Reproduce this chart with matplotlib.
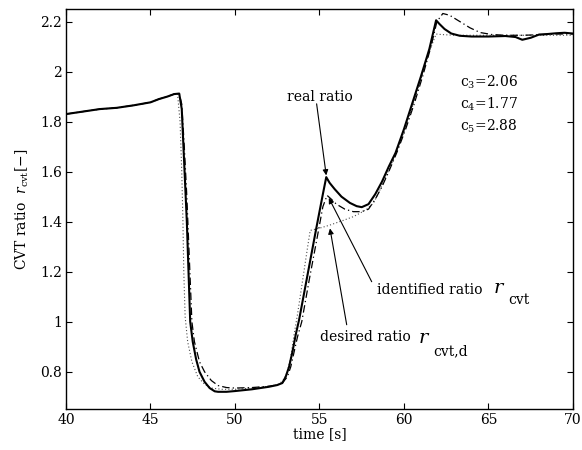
import matplotlib
matplotlib.use("Agg")
import matplotlib.pyplot as plt

plt.rcParams['font.family'] = ['DejaVu Serif']
plt.rcParams['mathtext.fontset'] = 'dejavuserif'
plt.rcParams['font.size'] = 10

# real ratio (measured)
t_real = [40, 41, 42, 43, 44, 45, 45.5, 46, 46.4, 46.7, 46.85, 46.95, 47.05, 47.15, 47.25,
          47.35, 47.5, 47.7, 47.9, 48.2, 48.5, 48.8, 49.0, 49.5, 50, 51, 52, 52.5, 52.8,
          53.0, 53.2, 53.4, 53.6, 53.8, 54.3, 54.8, 55.2, 55.4, 55.6, 55.9, 56.3, 56.8,
          57.2, 57.5, 57.9, 58.3, 58.7, 59.1, 59.5, 60.0, 60.5, 61.0, 61.5, 61.9, 62.1,
          62.4, 62.8, 63.3, 64, 65, 66, 66.6, 67.0, 67.5, 68, 68.5, 69, 69.5, 70]
r_real = [1.83, 1.84, 1.85, 1.855, 1.865, 1.877, 1.89, 1.90, 1.91, 1.912, 1.85, 1.70, 1.55,
          1.40, 1.20, 1.00, 0.92, 0.85, 0.80, 0.76, 0.735, 0.722, 0.72, 0.72, 0.723, 0.73,
          0.74, 0.747, 0.755, 0.78, 0.82, 0.88, 0.95, 1.01, 1.19, 1.37, 1.51, 1.578, 1.555,
          1.53, 1.50, 1.475, 1.462, 1.458, 1.47, 1.51, 1.56, 1.62, 1.675, 1.77, 1.875, 1.98,
          2.09, 2.205, 2.19, 2.17, 2.152, 2.143, 2.14, 2.14, 2.142, 2.138, 2.127, 2.135,
          2.148, 2.15, 2.153, 2.155, 2.152]

# identified ratio
t_id = [40, 41, 42, 43, 44, 45, 45.5, 46, 46.4, 46.7, 46.85, 47.0, 47.15, 47.3, 47.45, 47.6,
        47.9, 48.2, 48.6, 49, 49.5, 50, 51, 52, 52.5, 52.8, 53.1, 53.3, 53.5, 53.7, 53.95,
        54.4, 54.9, 55.2, 55.45, 55.7, 56.0, 56.5, 57.0, 57.5, 57.9, 58.3, 58.7, 59.1, 59.6,
        60.1, 60.6, 61.1, 61.6, 61.95, 62.3, 62.7, 63.3, 63.9, 64.5, 65.2, 66, 67, 68, 69, 70]
r_id = [1.83, 1.84, 1.85, 1.855, 1.865, 1.877, 1.89, 1.90, 1.91, 1.912, 1.87, 1.70, 1.50,
        1.25, 1.00, 0.92, 0.84, 0.80, 0.765, 0.745, 0.737, 0.735, 0.737, 0.742, 0.748, 0.755,
        0.78, 0.82, 0.88, 0.94, 1.00, 1.17, 1.35, 1.46, 1.505, 1.49, 1.47, 1.45, 1.44, 1.44,
        1.45, 1.49, 1.54, 1.60, 1.68, 1.77, 1.87, 1.98, 2.10, 2.20, 2.232, 2.225, 2.20, 2.175,
        2.156, 2.148, 2.145, 2.145, 2.147, 2.15, 2.15]

# desired ratio
t_des = [40, 41, 42, 43, 44, 45, 45.5, 46, 46.4, 46.6, 46.75, 46.85, 46.92, 46.97, 47.05,
         47.2, 47.45, 47.8, 48.2, 48.6, 49.2, 50, 51, 52, 52.6, 52.9, 53.1, 53.3, 53.5, 53.7,
         53.9, 54.1, 54.3, 54.45, 55.0, 55.6, 56.4, 57.0, 57.4, 57.8, 58.2, 58.6, 59.0, 59.5,
         60, 60.5, 61, 61.5, 61.9, 62.2, 63, 70]
r_des = [1.83, 1.84, 1.85, 1.855, 1.865, 1.877, 1.89, 1.90, 1.91, 1.91, 1.80, 1.60, 1.40,
         1.20, 1.02, 0.92, 0.84, 0.78, 0.75, 0.735, 0.73, 0.73, 0.735, 0.742, 0.75, 0.77,
         0.80, 0.86, 0.95, 1.03, 1.12, 1.21, 1.30, 1.365, 1.374, 1.386, 1.405, 1.42, 1.434,
         1.45, 1.475, 1.53, 1.59, 1.67, 1.76, 1.86, 1.97, 2.08, 2.15, 2.148, 2.145, 2.145]

x_ticks = [40, 45, 50, 55, 60, 65, 70]
y_ticks = [0.8, 1.0, 1.2, 1.4, 1.6, 1.8, 2.0, 2.2]
y_tick_labels = ['0.8', '1', '1.2', '1.4', '1.6', '1.8', '2', '2.2']
coeffs = ['c$_3$=2.06', 'c$_4$=1.77', 'c$_5$=2.88']

fig = plt.figure(figsize=(5.82, 4.5), dpi=100)
ax = fig.add_axes([0.1134, 0.0904, 0.8711, 0.8896])

ax.plot(t_des, r_des, color='0.3', linestyle=(0, (1, 2)), linewidth=0.8)
ax.plot(t_id, r_id, color='black', linestyle=(0, (6, 2.5, 1, 2.5)), linewidth=0.9)
ax.plot(t_real, r_real, color='black', linestyle='-', linewidth=1.5)

ax.set_xlim(40, 70)
ax.set_ylim(0.65, 2.25)
ax.set_xticks(x_ticks)
ax.set_yticks(y_ticks)
ax.set_yticklabels(y_tick_labels)
ax.tick_params(direction='in', top=True, right=True, length=4, width=0.8, pad=3,
               labelsize=10)
for s in ax.spines.values():
    s.set_linewidth(1.0)

ax.set_xlabel('time [s]', labelpad=0)
ax.set_ylabel(r'CVT ratio  $\mathit{r}_{\rm cvt}$[$-$]', labelpad=6)

arrow = dict(arrowstyle='-|>', color='black', lw=0.8, mutation_scale=8,
             shrinkA=0, shrinkB=0)
ax.annotate('', xy=(55.4, 1.585), xytext=(54.83, 1.871), arrowprops=arrow)
ax.annotate('', xy=(55.55, 1.495), xytext=(58.09, 1.160), arrowprops=arrow)
ax.annotate('', xy=(55.62, 1.373), xytext=(56.61, 0.988), arrowprops=arrow)

ax.text(53.06, 1.897, 'real ratio', va='center', ha='left')
ax.text(58.38, 1.127, 'identified ratio', va='center', ha='left')
ax.text(65.28, 1.135, 'r', va='center', ha='left', fontsize=14, style='italic')
ax.text(66.17, 1.087, 'cvt', va='center', ha='left')
ax.text(55.03, 0.941, 'desired ratio', va='center', ha='left')
ax.text(60.85, 0.935, 'r', va='center', ha='left', fontsize=14, style='italic')
ax.text(61.74, 0.881, 'cvt,d', va='center', ha='left')

for i, c in enumerate(coeffs):
    ax.text(63.31, 1.957 - i * 0.088, c, va='center', ha='left')

fig.savefig('out.png', dpi=100)
